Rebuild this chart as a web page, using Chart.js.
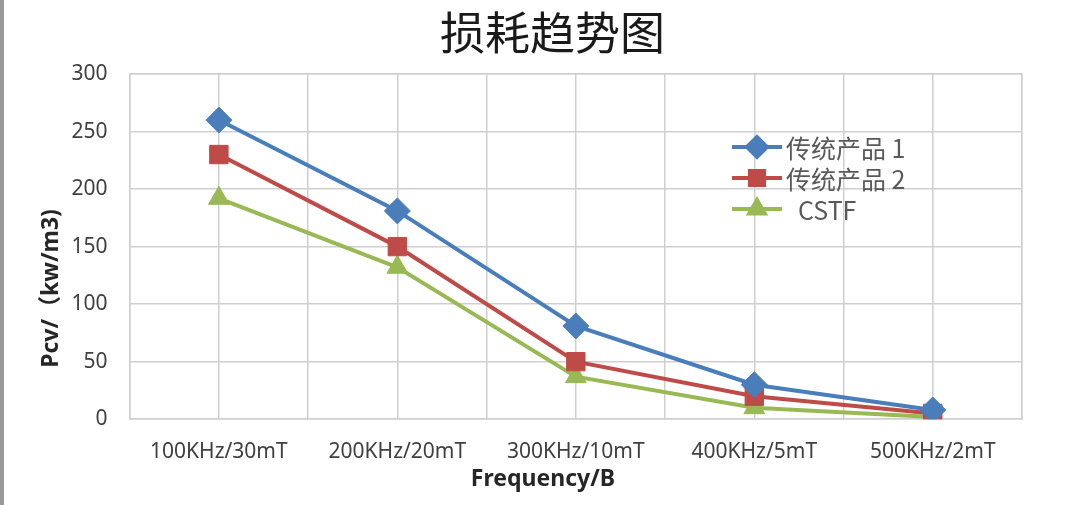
<!DOCTYPE html>
<html>
<head>
<meta charset="utf-8">
<script src="https://cdn.jsdelivr.net/npm/chart.js@4"></script>
<style>
  html, body { margin: 0; padding: 0; background: #fff; }
  #wrap { position: relative; width: 1080px; height: 505px; }
  #wrap::before { content: ''; position: absolute; left: 0; top: 0; bottom: 0; width: 4px; background: #9a9a9a; }
  #legend { position: absolute; left: 730px; top: 131px; font-family: "Noto Sans CJK SC", "Noto Sans", sans-serif; font-size: 25px; color: #595959; }
  .legend-item { display: flex; align-items: center; height: 31px; }
  .legend-item canvas { margin-right: 2px; }
</style>
</head>
<body>
<div id="wrap">
  <canvas id="chart" width="1080" height="505"></canvas>
  <div id="legend"></div>
</div>
<script>
const CATEGORIAS = ['100KHz/30mT', '200KHz/20mT', '300KHz/10mT', '400KHz/5mT', '500KHz/2mT'];
const SERIES = ['传统产品 1', '传统产品 2', 'CSTF'];
const TRADICIONAL_1 = [260, 181, 81, 30, 8];
const TRADICIONAL_2 = [230, 150, 50, 20, 5];
const CSTF = [192, 132, 37, 10, 2];
const Y_TICKS = [0, 50, 100, 150, 200, 250, 300];

const CORES = ['#4a7ebb', '#be4b48', '#98b954'];
const PONTOS = ['rectRot', 'rect', 'triangle'];
const RAIOS = [13, 13, 12];

const gridColor = '#cfcfcf';
const labelColor = '#404040';
const fonteBase = '"Noto Sans", "Noto Sans CJK SC", sans-serif';

const valores = [TRADICIONAL_1, TRADICIONAL_2, CSTF];

const chart = new Chart(document.getElementById('chart'), {
  type: 'line',
  data: {
    labels: CATEGORIAS,
    datasets: SERIES.map((nome, i) => ({
      label: nome,
      data: valores[i],
      borderColor: CORES[i],
      backgroundColor: CORES[i],
      borderWidth: 4,
      pointStyle: PONTOS[i],
      pointRadius: RAIOS[i],
      pointBackgroundColor: CORES[i],
      pointBorderColor: CORES[i],
      pointBorderWidth: 1,
      tension: 0
    }))
  },
  options: {
    responsive: false,
    animation: false,
    layout: { padding: { left: 38, right: 58, top: 0, bottom: 12 } },
    plugins: {
      legend: { display: false },
      tooltip: { enabled: false },
      title: {
        display: true,
        // espaço inicial para deslocar o título um pouco à direita, como no original
        text: '\u3000损耗趋势图',
        color: '#1a1a1a',
        font: { family: '"Noto Sans CJK SC", sans-serif', size: 45, weight: 'normal' },
        padding: { top: 6, bottom: 14 }
      }
    },
    scales: {
      x: {
        type: 'category',
        offset: true,
        grid: { color: gridColor, lineWidth: 1.5, offset: false, drawTicks: false },
        border: { color: gridColor, width: 1.5 },
        ticks: { color: labelColor, font: { family: fonteBase, size: 21 }, padding: 20, maxRotation: 0 },
        title: { display: true, text: 'Frequency/B' + ' '.repeat(11), color: '#262626', font: { family: fonteBase, size: 23, weight: 'bold' }, padding: { top: -19, bottom: 0 } }
      },
      x2: {
        type: 'category',
        position: 'top',
        offset: true,
        grid: { color: gridColor, lineWidth: 1.5, offset: true, drawTicks: false },
        border: { color: gridColor, width: 1.5 },
        ticks: { display: false }
      },
      y: {
        min: 0,
        max: 300,
        afterBuildTicks: axis => { axis.ticks = Y_TICKS.map(v => ({ value: v })); },
        grid: { color: gridColor, lineWidth: 1.5, drawTicks: false },
        border: { color: gridColor, width: 1.5 },
        ticks: { color: labelColor, font: { family: fonteBase, size: 21 }, padding: 22 },
        title: { display: true, text: 'Pcv/（kw/m3)' + ' '.repeat(14), color: '#262626', font: { family: fonteBase, size: 23, weight: 'bold' }, padding: { top: 0, bottom: -16 } }
      },
      y2: {
        position: 'right',
        min: 0,
        max: 300,
        grid: { display: false, drawTicks: false },
        border: { color: gridColor, width: 1.5 },
        ticks: { display: false }
      }
    }
  }
});

// legenda dentro da área do gráfico
const legend = document.getElementById('legend');
SERIES.forEach((nome, i) => {
  const div = document.createElement('div');
  div.className = 'legend-item';
  const c = document.createElement('canvas');
  c.width = 54; c.height = 26;
  const ctx = c.getContext('2d');
  ctx.strokeStyle = CORES[i];
  ctx.lineWidth = 4;
  ctx.beginPath(); ctx.moveTo(2, 13); ctx.lineTo(52, 13); ctx.stroke();
  ctx.fillStyle = CORES[i];
  Chart.helpers.drawPoint(ctx, { pointStyle: PONTOS[i], radius: RAIOS[i] - 3, borderWidth: 1 }, 27, 13);
  ctx.fill();
  div.appendChild(c);
  const span = document.createElement('span');
  span.textContent = nome;
  if (i === 2) span.style.marginLeft = '12px';
  div.appendChild(span);
  legend.appendChild(div);
});
</script>
</body>
</html>
